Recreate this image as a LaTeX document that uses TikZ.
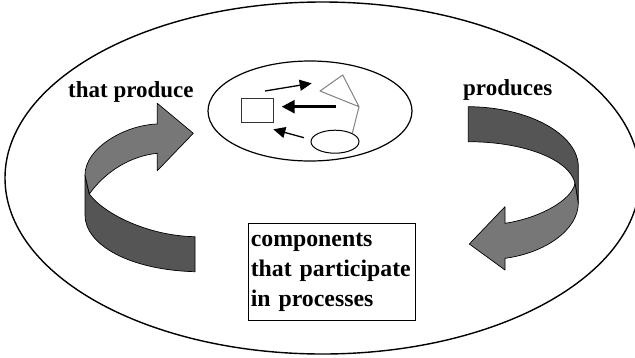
\documentclass[tikz,border=0pt]{standalone}
\usepackage{fontspec}
\setmainfont{Liberation Serif}
\usetikzlibrary{arrows.meta,shapes.geometric}

\definecolor{bandback}{HTML}{555555}
\definecolor{bandfront}{HTML}{777777}
\definecolor{wire}{HTML}{808080}

\tikzset{
  label text/.style={font=\fontsize{23}{28}\selectfont\bfseries, inner sep=0pt, anchor=base west},
  band back/.style={fill=bandback, draw=black, line width=0.7pt, line join=round},
  band front/.style={fill=bandfront, draw=black, line width=0.7pt, line join=round},
  flow/.style={-{Triangle[length=12pt,width=11pt]}, line width=1.3pt},
  flow bold/.style={-{Triangle[length=13pt,width=13pt]}, line width=2.6pt},
}

\begin{document}
\begin{tikzpicture}[x=1pt,y=-1pt]
\useasboundingbox (0,0) rectangle (635,357);
\clip (0,0) rectangle (635,357);

% outer system boundary
\draw[line width=1.4pt] (322.5,178) ellipse [x radius=317.5, y radius=176];

% inner process network
\draw[line width=1.2pt] (310,111) ellipse [x radius=102, y radius=50];
\node (box) [draw=black!80, line width=1pt, minimum width=32pt, minimum height=24pt, inner sep=0pt] at (257,110) {};
\node (oval) [draw, ellipse, line width=1pt, minimum width=48pt, minimum height=23pt, inner sep=0pt] at (335,141.7) {};
\coordinate (t1) at (342.7,75);
\coordinate (t2) at (320,91);
\coordinate (t3) at (359,106.7);
\draw[wire, line width=1pt, line join=round] (t2) -- (t1) -- (t3) -- cycle;
\draw[wire, line width=1pt] (t3) -- (oval.north east);

\coordinate (a1s) at (265,91);
\coordinate (a1e) at (311.7,83.3);
\coordinate (a2s) at (336,106.7);
\coordinate (a2e) at (281.7,106.7);
\coordinate (a3s) at (304,137.7);
\coordinate (a3e) at (273.3,129.3);
\draw[flow] (a1s) -- (a1e);
\draw[flow bold] (a2s) -- (a2e);
\draw[flow] (a3s) -- (a3e);

% right-hand twisted arrow
\draw[band back] (468.3,106.7) .. controls (530,107) and (578.3,135) .. (578.3,166.7)
  -- (578.3,203.3) -- (575,183.3)
  .. controls (570,160) and (525,141.7) .. (468.3,141.7) -- cycle;
\draw[band front] (575,183.3) -- (578.3,203.3)
  .. controls (578,230) and (545,253) .. (505,258.3)
  -- (505,270) -- (469.3,244) -- (505,206.7) -- (505,223.3)
  .. controls (540,218) and (572,200) .. (575,183.3) -- cycle;

% left-hand twisted arrow
\draw[band back] (85,175) -- (85,215)
  .. controls (85,245) and (130,270) .. (195,271.7)
  -- (195,236.7)
  .. controls (150,236) and (105,215) .. (89.3,194) -- cycle;
\draw[band front] (157.3,124) .. controls (125,125) and (85,148) .. (85,175)
  -- (89.3,194)
  .. controls (105,172) and (130,156) .. (157.3,153.3)
  -- (157.3,170.7) -- (193.3,133.3) -- (157.3,103.3) -- cycle;

% labels
\node (lp) [label text] at (68,97) {that produce};
\node (rp) [label text] at (463,95) {produces};

\node (comp) [draw, line width=1pt, anchor=north west, inner xsep=2pt, inner ysep=0pt,
  text width=163pt, minimum height=96.7pt, align=left,
  font=\fontsize{23.8}{29.7}\selectfont\bfseries] at (248.3,223.3)
  {components\\that participate\\in processes};
\end{tikzpicture}
\end{document}
